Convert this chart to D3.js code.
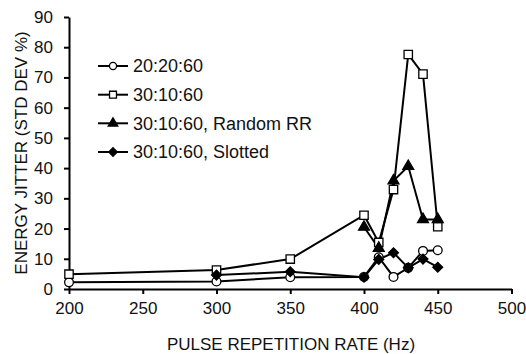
<!DOCTYPE html>
<html>
<head>
<meta charset="utf-8">
<script src="https://cdn.jsdelivr.net/npm/d3@7"></script>
<style>
  body { margin: 0; background: #fff; }
  svg { display: block; font-family: "Liberation Sans", Arial, sans-serif; }
</style>
</head>
<body>
<svg width="526" height="354"></svg>
<script>
"use strict";

// Pulse repetition rates (Hz) for each series
const rates = [200, 300, 350, 400, 410, 420, 430, 440, 450];
const ratesSlotted = [300, 350, 400, 410, 420, 430, 440, 450];
const ratesRandom = [400, 410, 420, 430, 440, 450];

// Energy jitter, std dev %
const jitter202060 = [2.2, 2.5, 3.9, 4.0, 10.5, 4.0, 7.0, 12.6, 12.8];
const jitter301060 = [4.9, 6.3, 9.9, 24.4, 15.4, 32.9, 77.6, 71.1, 20.6];
const jitterRandomRR = [20.5, 13.5, 35.8, 40.6, 23.0, 23.0];
const jitterSlotted = [4.6, 5.7, 3.9, 9.8, 12.0, 7.0, 9.9, 7.2];

const xTicks = [200, 250, 300, 350, 400, 450, 500];
const yTicks = [0, 10, 20, 30, 40, 50, 60, 70, 80, 90];

const seriesNames = ["20:20:60", "30:10:60", "30:10:60, Random RR", "30:10:60, Slotted"];

window.addEventListener("load", draw);

function draw() {
    const svg = d3.select("svg");

    const x = d3.scaleLinear().domain([200, 500]).range([69, 511.5]);
    const y = d3.scaleLinear().domain([0, 90]).range([289, 17]);

    const series = [
        { name: seriesNames[0], xs: rates, ys: jitter202060, marker: "circle" },
        { name: seriesNames[1], xs: rates, ys: jitter301060, marker: "square" },
        { name: seriesNames[2], xs: ratesRandom, ys: jitterRandomRR, marker: "triangle" },
        { name: seriesNames[3], xs: ratesSlotted, ys: jitterSlotted, marker: "diamond" }
    ];

    // axes
    const xAxis = svg.append("g")
        .attr("transform", `translate(0,${y(0)})`)
        .call(d3.axisBottom(x).tickValues(xTicks).tickSizeOuter(0).tickSizeInner(5).tickPadding(8));
    const yAxis = svg.append("g")
        .attr("transform", `translate(${x(200)},0)`)
        .call(d3.axisLeft(y).tickValues(yTicks).tickSizeOuter(0).tickSizeInner(5).tickPadding(11));

    [xAxis, yAxis].forEach(g => {
        g.select(".domain").attr("stroke", "#000").attr("stroke-width", 2);
        g.selectAll(".tick line").attr("stroke", "#000").attr("stroke-width", 2);
        g.selectAll(".tick text").attr("fill", "#111").style("font-size", "17px")
            .style("font-family", "'Liberation Sans', Arial, sans-serif");
    });

    svg.append("text")
        .attr("x", 291).attr("y", 350)
        .attr("text-anchor", "middle")
        .style("font-size", "17px").attr("fill", "#111")
        .text("PULSE REPETITION RATE (Hz)");

    svg.append("text")
        .attr("transform", "translate(27,153) rotate(-90)")
        .attr("text-anchor", "middle")
        .style("font-size", "17px").attr("fill", "#111")
        .text("ENERGY JITTER (STD DEV %)");

    const line = d3.line().x(d => x(d[0])).y(d => y(d[1]));

    const symbols = {
        circle: d3.symbol().type(d3.symbolCircle).size(60),
        square: d3.symbol().type(d3.symbolSquare).size(70),
        triangle: d3.symbol().type(d3.symbolTriangle).size(52),
        diamond: d3.symbol().type(d3.symbolSquare).size(48)
    };
    const rotFor = m => m === "diamond" ? " rotate(45)" : "";
    const fillFor = m => (m === "circle" || m === "square") ? "#fff" : "#000";

    series.forEach(s => {
        const pts = s.xs.map((v, i) => [v, s.ys[i]]);
        svg.append("path")
            .datum(pts)
            .attr("d", line)
            .attr("fill", "none")
            .attr("stroke", "#000")
            .attr("stroke-width", 2);
    });

    series.forEach(s => {
        const pts = s.xs.map((v, i) => [v, s.ys[i]]);
        svg.append("g").selectAll("path")
            .data(pts)
            .join("path")
            .attr("d", symbols[s.marker])
            .attr("transform", d => `translate(${x(d[0])},${y(d[1])})${rotFor(s.marker)}`)
            .attr("fill", fillFor(s.marker))
            .attr("stroke", "#000")
            .attr("stroke-width", 1.3);
    });

    // legend
    const legendY = [66, 94.7, 123.3, 152];
    const legendSymbols = {
        circle: d3.symbol().type(d3.symbolCircle).size(40),
        square: d3.symbol().type(d3.symbolSquare).size(48),
        triangle: d3.symbol().type(d3.symbolTriangle).size(40),
        diamond: d3.symbol().type(d3.symbolSquare).size(36)
    };
    const legend = svg.append("g");
    series.forEach((s, i) => {
        const g = legend.append("g").attr("transform", `translate(0,${legendY[i]})`);
        g.append("line").attr("x1", 98).attr("x2", 128).attr("y1", 0).attr("y2", 0)
            .attr("stroke", "#000").attr("stroke-width", 2);
        g.append("path").attr("d", legendSymbols[s.marker])
            .attr("transform", `translate(113,0)${rotFor(s.marker)}`)
            .attr("fill", fillFor(s.marker))
            .attr("stroke", "#000").attr("stroke-width", 1.3);
        g.append("text").attr("x", 133).attr("y", 0).attr("dy", "0.35em")
            .style("font-size", "18px").attr("fill", "#111")
            .text(s.name);
    });
}
</script>
</body>
</html>
